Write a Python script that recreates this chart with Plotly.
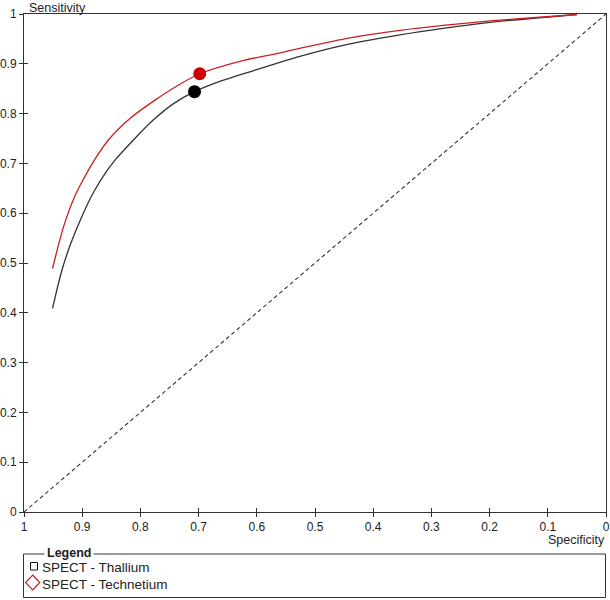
import plotly.graph_objects as go

# ---- data ----
thallium_spec = [0.951, 0.935, 0.920, 0.900, 0.880, 0.860, 0.844, 0.812, 0.778, 0.743, 0.707,
                 0.660, 0.612, 0.526, 0.440, 0.354, 0.280, 0.199, 0.120, 0.050]
thallium_sens = [0.409, 0.485, 0.538, 0.595, 0.643, 0.681, 0.706, 0.747, 0.787, 0.820, 0.844,
                 0.866, 0.884, 0.915, 0.940, 0.958, 0.971, 0.983, 0.992, 0.999]
technetium_spec = [0.951, 0.932, 0.912, 0.898, 0.881, 0.855, 0.818, 0.775, 0.738, 0.698,
                   0.629, 0.560, 0.526, 0.440, 0.354, 0.280, 0.199, 0.120, 0.050]
technetium_sens = [0.489, 0.573, 0.636, 0.668, 0.703, 0.747, 0.790, 0.827, 0.855, 0.880,
                   0.905, 0.922, 0.931, 0.952, 0.967, 0.977, 0.986, 0.993, 0.999]
summary_spec = [0.707, 0.698]
summary_sens = [0.844, 0.880]
diag_spec = [1.0, 0.0]
diag_sens = [0.0, 1.0]
tick_vals = [1.0, 0.9, 0.8, 0.7, 0.6, 0.5, 0.4, 0.3, 0.2, 0.1, 0.0]
tick_text = ["1", "0.9", "0.8", "0.7", "0.6", "0.5", "0.4", "0.3", "0.2", "0.1", "0"]
series_names = ["SPECT - Thallium", "SPECT - Technetium"]

W, H = 610, 600
L, R, T, B = 24, 4, 14, 88
PW, PH = W - L - R, H - T - B


def px_x(p):
    return (p - L) / PW


def px_y(p):
    return (H - B - p) / PH


FONT = "Liberation Sans, Arial, sans-serif"
TXT = "#222222"
AX = "#333333"
RED = "#cc1f1f"

fig = go.Figure()
fig.add_trace(go.Scatter(x=diag_spec, y=diag_sens, mode="lines",
                         line=dict(color="#333333", width=1.1, dash="4px,3px"),
                         showlegend=False, hoverinfo="skip"))
fig.add_trace(go.Scatter(x=thallium_spec, y=thallium_sens, mode="lines",
                         line=dict(color="#333333", width=1.3, shape="spline", smoothing=0.8),
                         name=series_names[0], showlegend=False))
fig.add_trace(go.Scatter(x=technetium_spec, y=technetium_sens, mode="lines",
                         line=dict(color=RED, width=1.3, shape="spline", smoothing=0.8),
                         name=series_names[1], showlegend=False))
fig.add_trace(go.Scatter(x=summary_spec[:1], y=summary_sens[:1], mode="markers",
                         marker=dict(color="#000000", size=13), showlegend=False))
fig.add_trace(go.Scatter(x=summary_spec[1:], y=summary_sens[1:], mode="markers",
                         marker=dict(color="#cc0000", size=13), showlegend=False))
# invisible trace to carry the overlay axes (inner tick halves)
fig.add_trace(go.Scatter(x=[None], y=[None], xaxis="x2", yaxis="y2",
                         showlegend=False, hoverinfo="skip"))

axis_common = dict(showgrid=False, zeroline=False, showline=True, linecolor=AX,
                   linewidth=1, tickcolor=AX, ticklen=4, tickwidth=1,
                   tickfont=dict(family=FONT, size=12, color=TXT), fixedrange=True)
axis_plain = {k: v for k, v in axis_common.items() if k != "tickfont"}

fig.update_layout(
    width=W, height=H,
    margin=dict(l=L, r=R, t=T, b=B, autoexpand=False),
    paper_bgcolor="white", plot_bgcolor="white",
    showlegend=False,
    xaxis=dict(range=[1, 0], tickvals=tick_vals, ticktext=tick_text, ticks="outside",
               mirror=True, **axis_common),
    yaxis=dict(range=[0, 1], tickvals=tick_vals, ticktext=tick_text, ticks="outside",
               mirror=True, **axis_common),
    xaxis2=dict(range=[1, 0], overlaying="x", anchor="y2", side="bottom",
                tickvals=tick_vals, ticks="inside", showticklabels=False, **axis_plain),
    yaxis2=dict(range=[0, 1], overlaying="y", anchor="x2", side="left",
                tickvals=tick_vals, ticks="inside", showticklabels=False, **axis_plain),
    font=dict(family=FONT, color=TXT),
)

annotations = [
    dict(text="Sensitivity", x=0, y=1, xref="paper", yref="paper", xanchor="left",
         yanchor="bottom", xshift=3, yshift=-3, showarrow=False,
         font=dict(family=FONT, size=12.5, color=TXT)),
    dict(text="Specificity", x=1, y=px_y(540), xref="paper", yref="paper",
         xanchor="right", yanchor="middle", xshift=1, showarrow=False,
         font=dict(family=FONT, size=12.5, color=TXT)),
    dict(text="<b>Legend</b>", x=px_x(68.5), y=px_y(553), xref="paper", yref="paper",
         xanchor="center", yanchor="middle", showarrow=False, bgcolor="white",
         borderpad=2, font=dict(family=FONT, size=12.5, color=TXT)),
    dict(text=series_names[0], x=px_x(40), y=px_y(567.5), xref="paper", yref="paper",
         xanchor="left", yanchor="middle", showarrow=False,
         font=dict(family=FONT, size=13.5, color=TXT)),
    dict(text=series_names[1], x=px_x(40), y=px_y(584.5), xref="paper", yref="paper",
         xanchor="left", yanchor="middle", showarrow=False,
         font=dict(family=FONT, size=13.5, color=TXT)),
]
fig.update_layout(annotations=annotations)

shapes = [
    dict(type="rect", xref="paper", yref="paper", x0=px_x(23.5), x1=px_x(605.5),
         y0=px_y(554), y1=px_y(597.5), line=dict(color=AX, width=1), layer="below"),
    dict(type="rect", xref="paper", yref="paper", x0=px_x(30.5), x1=px_x(37.5),
         y0=px_y(562.5), y1=px_y(570), line=dict(color="#111111", width=1)),
    dict(type="path", xref="paper", yref="paper",
         path="M {a},{b} L {c},{d} L {a},{e} L {f},{d} Z".format(
             a=px_x(32.7), b=px_y(575), c=px_x(39.8), d=px_y(582.5),
             e=px_y(590), f=px_x(25.6)),
         line=dict(color=RED, width=1.2)),
]
fig.update_layout(shapes=shapes)

fig.write_html("out.html",
               config={"displayModeBar": False, "staticPlot": True},
               post_script="document.body.style.margin='0';document.body.style.overflow='hidden';")
